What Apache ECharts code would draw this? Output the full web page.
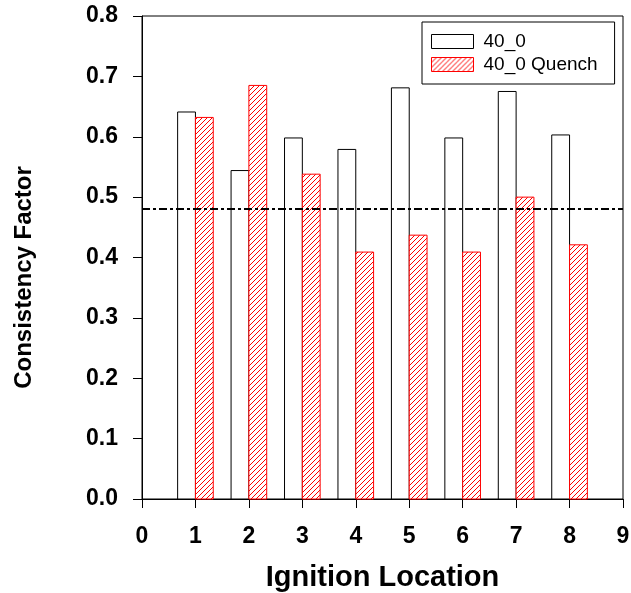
<!DOCTYPE html>
<html>
<head>
<meta charset="utf-8">
<script src="https://cdn.jsdelivr.net/npm/echarts@6/dist/echarts.min.js"></script>
<style>
html,body{margin:0;padding:0;background:#fff;}
#chart{width:631px;height:593px;}
</style>
</head>
<body>
<div id="chart"></div>
<script>
// ---- data ----
const locations = [1, 2, 3, 4, 5, 6, 7, 8];
const base40 = [0.641, 0.544, 0.598, 0.579, 0.681, 0.598, 0.675, 0.603];
const quench40 = [0.632, 0.685, 0.538, 0.409, 0.437, 0.409, 0.500, 0.421];
const thresholdValue = 0.48;
const seriesNames = ['40_0', '40_0 Quench'];
const xTicks = [0, 1, 2, 3, 4, 5, 6, 7, 8, 9];
const yTicks = [0.0, 0.1, 0.2, 0.3, 0.4, 0.5, 0.6, 0.7, 0.8];

// ---- hatch pattern ----
function makeHatch() {
  const c = document.createElement('canvas');
  c.width = 5; c.height = 5;
  const g = c.getContext('2d');
  g.fillStyle = '#ffffff';
  g.fillRect(0, 0, 5, 5);
  g.fillStyle = '#ff0000';
  for (let i = 0; i < 5; i++) g.fillRect(i, 4 - i, 1, 1);
  return c;
}
const hatch = { image: makeHatch(), repeat: 'repeat' };

const FONT = '"Liberation Sans", Arial, Helvetica, sans-serif';
const BAR_W = 1 / 3;

function barRenderer(offset, fill, stroke) {
  return function (params, api) {
    const x = api.value(0), v = api.value(1);
    const p0 = api.coord([x + offset, v]);
    const p1 = api.coord([x + offset + BAR_W, 0]);
    return {
      type: 'rect',
      shape: { x: p0[0], y: p0[1], width: p1[0] - p0[0], height: p1[1] - p0[1] },
      style: { fill: fill, stroke: stroke, lineWidth: 1 }
    };
  };
}

const chart = echarts.init(document.getElementById('chart'), null, { renderer: 'canvas' });
chart.setOption({
  animation: false,
  backgroundColor: '#ffffff',
  grid: { left: 142, right: 8, top: 16, bottom: 94, containLabel: false, outerBoundsMode: 'none',
    show: true, borderColor: '#000', borderWidth: 1, backgroundColor: 'transparent' },
  legend: {
    left: 422, top: 22,
    orient: 'vertical',
    backgroundColor: '#fff',
    borderColor: '#000', borderWidth: 1,
    padding: [10, 17, 10, 9],
    itemWidth: 42, itemHeight: 14, itemGap: 4,
    icon: 'rect',
    selectedMode: false,
    textStyle: { fontFamily: FONT, fontSize: 19, color: '#000', padding: [0, 0, 0, 5] },
    data: [
      { name: seriesNames[0], itemStyle: { color: '#fff', borderColor: '#000', borderWidth: 1 } },
      { name: seriesNames[1], itemStyle: { color: hatch, borderColor: '#ff0000', borderWidth: 1 } }
    ]
  },
  xAxis: {
    type: 'value', min: xTicks[0], max: xTicks[xTicks.length - 1], interval: 1,
    name: 'Ignition Location', nameLocation: 'middle', nameGap: 64,
    nameTextStyle: { fontFamily: FONT, fontSize: 29, fontWeight: 'bold', color: '#000' },
    axisLine: { show: true, onZero: false, lineStyle: { color: '#000', width: 1 } },
    axisTick: { show: true, inside: false, length: 9, lineStyle: { color: '#000' } },
    axisLabel: { margin: 26, fontFamily: FONT, fontSize: 23, fontWeight: 'bold', color: '#000' },
    splitLine: { show: false }
  },
  yAxis: {
    type: 'value', min: yTicks[0], max: yTicks[yTicks.length - 1], interval: 0.1,
    name: 'Consistency Factor', nameLocation: 'middle', nameGap: 106, nameRotate: 90,
    nameTextStyle: { fontFamily: FONT, fontSize: 24, fontWeight: 'bold', color: '#000', padding: [0, 40, 0, 0] },
    axisLine: { show: true, lineStyle: { color: '#000', width: 1 } },
    axisTick: { show: true, inside: false, length: 9, lineStyle: { color: '#000' } },
    axisLabel: { margin: 24, fontFamily: FONT, fontSize: 23, fontWeight: 'bold', color: '#000',
      formatter: v => v.toFixed(1) },
    splitLine: { show: false }
  },
  series: [
    {
      name: seriesNames[0], type: 'custom',
      renderItem: barRenderer(-BAR_W, '#ffffff', '#000000'),
      data: locations.map((x, i) => [x, base40[i]]),
      itemStyle: { color: '#fff', borderColor: '#000' },
      encode: { x: 0, y: 1 },
      z: 2
    },
    {
      name: seriesNames[1], type: 'custom',
      renderItem: barRenderer(0, hatch, '#ff0000'),
      data: locations.map((x, i) => [x, quench40[i]]),
      itemStyle: { color: '#ff0000', borderColor: '#ff0000' },
      encode: { x: 0, y: 1 },
      z: 2,
      markLine: {
        silent: true, symbol: 'none', label: { show: false },
        lineStyle: { color: '#000', width: 2, type: [8, 3, 3, 3] },
        data: [{ yAxis: thresholdValue }],
        z: 5
      }
    }
  ]
});
</script>
</body>
</html>
